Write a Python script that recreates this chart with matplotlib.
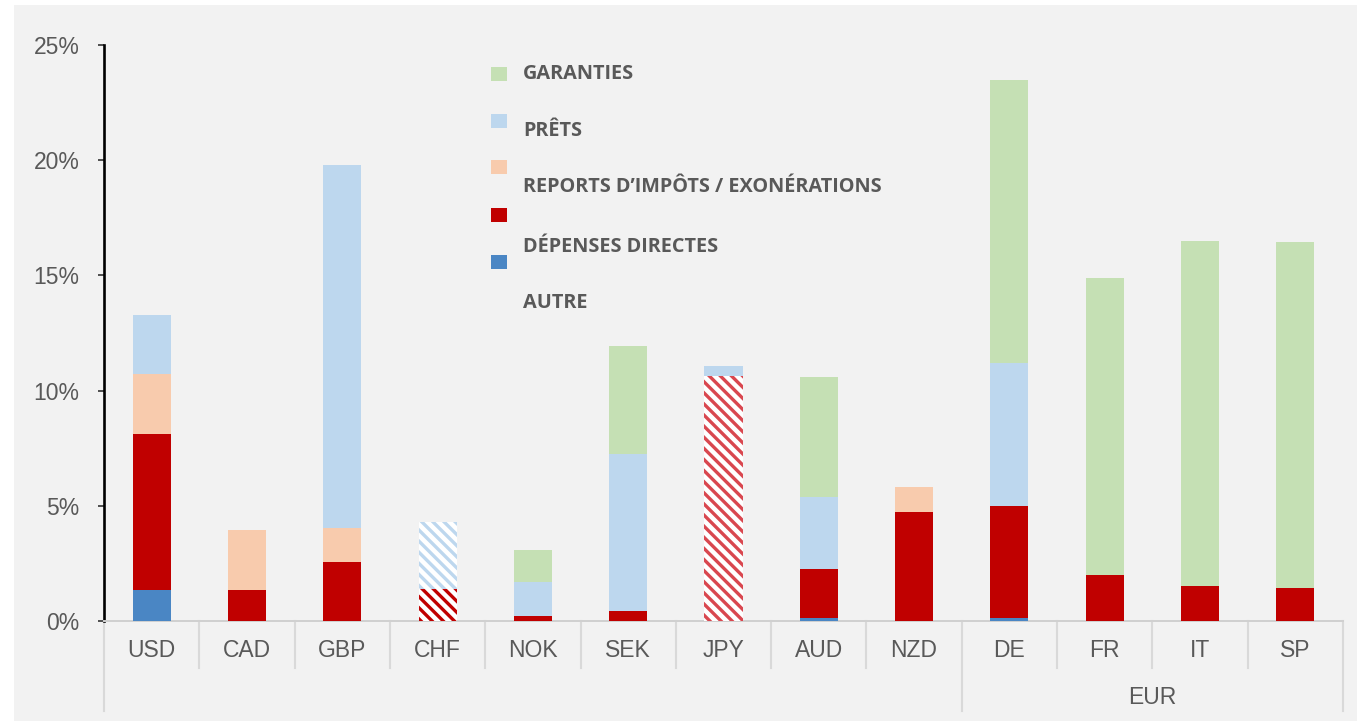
import numpy as np
import matplotlib
matplotlib.use("Agg")
import matplotlib.pyplot as plt
from matplotlib.patches import Rectangle
import matplotlib.transforms as mtransforms

# categories and stacked segment heights (% of GDP), bottom to top
categories = ['USD', 'CAD', 'GBP', 'CHF', 'NOK', 'SEK', 'JPY', 'AUD', 'NZD', 'DE', 'FR', 'IT', 'SP']
autre     = [1.35, 0, 0, 0, 0, 0, 0, 0.15, 0, 0.15, 0, 0, 0]
depenses  = [6.75, 1.35, 2.55, 1.4, 0.22, 0.45, 10.65, 2.1, 4.75, 4.85, 2.0, 1.5, 1.45]
reports   = [2.6, 2.62, 1.5, 0, 0, 0, 0, 0, 1.05, 0, 0, 0, 0]
prets     = [2.6, 0, 15.75, 2.9, 1.48, 6.8, 0.4, 3.15, 0, 6.2, 0, 0, 0]
garanties = [0, 0, 0, 0, 1.4, 4.7, 0, 5.2, 0, 12.3, 12.9, 15.0, 15.0]

# segments drawn as hatched: (category, series)
hatched = [('CHF', 'depenses'), ('CHF', 'prets'), ('JPY', 'depenses')]

groups = [('', 0, 8), ('EUR', 9, 12)]
yticks = [0, 5, 10, 15, 20, 25]

legend_labels = ['GARANTIES', 'PRÊTS', 'REPORTS D’IMPÔTS / EXONÉRATIONS',
                 'DÉPENSES DIRECTES', 'AUTRE']

colors = {'autre': '#4a86c4', 'depenses': '#c00000', 'reports': '#f8cbad',
          'prets': '#bdd7ee', 'garanties': '#c5e0b4'}
hatch_colors = {'depenses': '#c00000', 'prets': '#bdd7ee'}
jpy_hatch = '#d9474f'

W, H = 1357, 721
plt.rcParams['hatch.linewidth'] = 2.4
fig = plt.figure(figsize=(W / 100, H / 100), dpi=100)
fig.patch.set_facecolor('white')
fig.add_artist(Rectangle((14 / W, 0), 1 - 14 / W, 1 - 5 / H, transform=fig.transFigure,
                         facecolor='#f2f2f2', edgecolor='none', zorder=-10))

ax = fig.add_axes([104 / W, 100 / H, (1343 - 104) / W, 576 / H])
ax.set_facecolor('none')

x = np.arange(len(categories))
series = [('autre', autre), ('depenses', depenses), ('reports', reports),
          ('prets', prets), ('garanties', garanties)]
bottom = np.zeros(len(categories))
for name, vals in series:
    vals = np.array(vals, dtype=float)
    for i, cat in enumerate(categories):
        if vals[i] <= 0:
            continue
        if (cat, name) in hatched:
            hc = jpy_hatch if cat == 'JPY' else hatch_colors[name]
            ax.bar(x[i], vals[i], 0.4, bottom=bottom[i], color='white',
                   edgecolor=hc, hatch='\\\\\\', linewidth=0, zorder=3)
        else:
            ax.bar(x[i], vals[i], 0.4, bottom=bottom[i], color=colors[name],
                   linewidth=0, zorder=3)
    bottom += vals

ax.set_xlim(-0.5, len(categories) - 0.5)
ax.set_ylim(0, 25)
ax.set_yticks(yticks)
ax.set_yticklabels([f'{v}%' for v in yticks], fontsize=16.5, color='#595959',
                   family='Liberation Sans')
ax.tick_params(axis='y', length=4.5, width=1.2, color='#333333', pad=13)
ax.set_xticks([])
for s in ['top', 'right']:
    ax.spines[s].set_visible(False)
ax.spines['left'].set_linewidth(1.9)
ax.spines['left'].set_color('black')
ax.spines['bottom'].set_color('#d0d0d0')
ax.spines['bottom'].set_linewidth(1.4)

trans = mtransforms.blended_transform_factory(ax.transData, ax.transAxes)
for i, cat in enumerate(categories):
    ax.text(x[i], -0.052, cat, transform=trans, ha='center', va='center',
            fontsize=16.5, color='#595959', family='Liberation Sans')

group_edges = set()
for label, a, b in groups:
    group_edges.add(a - 0.5)
    group_edges.add(b + 0.5)
    if label:
        ax.text((a + b) / 2, -0.132, label, transform=trans, ha='center', va='center',
                fontsize=16.5, color='#595959', family='Liberation Sans')
for e in np.arange(-0.5, len(categories), 1.0):
    y_end = -0.156 if e in group_edges else -0.082
    ax.plot([e, e], [0, y_end], transform=trans, color='#d9d9d9', lw=1.5,
            clip_on=False, zorder=1)

# legend drawn by hand (squares and labels are offset in the original)
square_y = [74, 121, 167, 215, 262]
text_y = [74, 131, 187, 247, 303]
sq_colors = [colors['garanties'], colors['prets'], colors['reports'],
             colors['depenses'], colors['autre']]
for yy, c in zip(square_y, sq_colors):
    fig.add_artist(Rectangle((491 / W, 1 - (yy + 7) / H), 16 / W, 14 / H,
                             transform=fig.transFigure, facecolor=c, edgecolor='none'))
for yy, lab in zip(text_y, legend_labels):
    fig.text(523 / W, 1 - yy / H, lab, ha='left', va='center', fontsize=14.3,
             fontweight='bold', color='#595959', family='Open Sans')

fig.savefig('out.png', dpi=100)
